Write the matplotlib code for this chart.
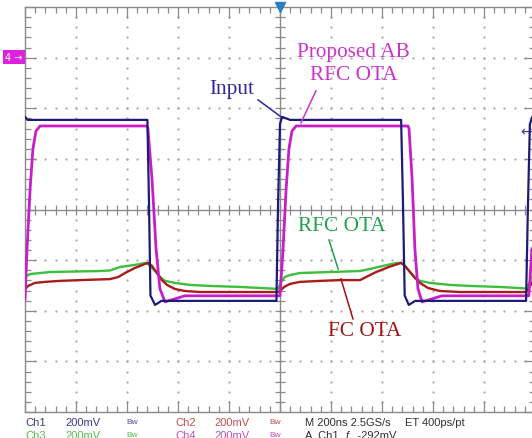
"""Oscilloscope capture: step response of the proposed class-AB RFC OTA vs RFC and FC OTAs."""
import numpy as np
import matplotlib
matplotlib.use("Agg")
import matplotlib.pyplot as plt  # noqa: E402

# time in ns (200 ns/div, trigger at 0), voltage in mV (200 mV/div, centre = 0)
input_t = [-1000, -990, -520, -514, -508, -490, -465, -14, -8, 0, 8, 40,
           475, 482, 489, 505, 530, 965, 972, 980, 990]
input_v = [366, 354, 354, 40, -340, -377, -361, -361, 0, 338, 366, 354,
           354, 40, -340, -377, -361, -361, 0, 338, 366]

ab_t = [-1000, -992, -980, -969, -957, -941, -522, -518, -502, -486, -471,
        -451, -412, -373, -8, 0, 12, 24, 35, 47, 63, 502, 506, 518, 529,
        541, 557, 596, 635, 972, 976, 988]
ab_v = [-354, -155, 81, 239, 310, 330, 330, 319, 121, -155, -313, -365,
        -353, -341, -341, -341, -155, 81, 239, 310, 330, 330, 319, 121,
        -155, -313, -365, -353, -341, -341, -341, -155]

rfc_t = [-1000, -980, -902, -706, -667, -627, -569, -529, -522, -510, -490,
         -471, -451, -412, -353, -275, -157, -39, -8, 4, 20, 39, 78, 196,
         314, 353, 412, 459, 475, 490, 510, 529, 549, 588, 667, 745, 863,
         965, 976, 988]
rfc_v = [-266, -255, -247, -243, -241, -227, -219, -211, -211, -223, -243,
         -266, -282, -290, -298, -302, -306, -312, -314, -286, -266, -259,
         -251, -247, -243, -235, -221, -211, -211, -223, -247, -270, -282,
         -290, -298, -302, -306, -312, -294, -266]

fc_t = [-1000, -988, -961, -922, -863, -784, -667, -635, -608, -569, -529,
        -518, -502, -482, -463, -443, -412, -373, -314, -8, 0, 16, 39, 78,
        157, 235, 314, 337, 377, 427, 475, 490, 510, 529, 549, 580, 627,
        706, 965, 976, 988]
fc_v = [-315, -302, -290, -286, -282, -279, -275, -267, -251, -231, -215,
        -211, -223, -251, -279, -298, -314, -322, -326, -326, -322, -306,
        -294, -286, -282, -279, -279, -267, -247, -227, -211, -223, -247,
        -270, -290, -310, -322, -326, -326, -310, -290]

# annotation labels: text, colour, position (ns, mV), pointer start, pointer end
labels = [
    ("Input", "#2b2b9b", (-188, 477), (-86, 433), (4, 366)),
    ("Proposed AB\nRFC OTA", "#cc33cc", (288, 578), (141, 469), (82, 342)),
    ("RFC OTA", "#22a04a", (243, -65), (192, -120), (228, -235)),
    ("FC OTA", "#a01414", (333, -480), (239, -274), (286, -432)),
]

# status bar of the scope
status_row1 = [(25, "Ch1", "#3a3a80"), (65, "200mV", "#3a3a90"), (126, "Bw", "#5050a0"),
               (175, "Ch2", "#c05050"), (214, "200mV", "#c05050"), (269, "Bw", "#c05050"),
               (305, "M 200ns 2.5GS/s", "#303030"), (405, "ET 400ps/pt", "#303030")]
status_row2 = [(25, "Ch3", "#50c050"), (65, "200mV", "#50c050"), (126, "Bw", "#50c050"),
               (175, "Ch4", "#c050c0"), (214, "200mV", "#c050c0"), (269, "Bw", "#c050c0"),
               (305, "A  Ch1  ƒ  -292mV", "#303030")]

W, H = 532, 439
GRID = "#8a8a8a"


def draw_graticule(ax):
    xs_minor = np.arange(-1000, 1001, 40)
    ys_minor = np.arange(-800, 801, 40)
    # dotted division lines
    for x in np.arange(-800, 801, 200):
        if x != 0:
            ax.plot(np.full_like(ys_minor, x), ys_minor, ls="none", marker=".",
                    ms=1.3, color="#ababab", zorder=1)
    for y in np.arange(-600, 601, 200):
        if y != 0:
            ax.plot(xs_minor, np.full_like(xs_minor, y), ls="none", marker=".",
                    ms=1.3, color="#ababab", zorder=1)
    # centre crosshair with ticks
    ax.axhline(0, color=GRID, lw=1, zorder=1)
    ax.axvline(0, color=GRID, lw=1, zorder=1)
    ax.plot(xs_minor, np.zeros_like(xs_minor), ls="none", marker="|", ms=7,
            mew=0.9, color=GRID, zorder=1)
    ax.plot(np.zeros_like(ys_minor), ys_minor, ls="none", marker="_", ms=7,
            mew=0.9, color=GRID, zorder=1)

    ax.set_xlim(-1000, 1000)
    ax.set_ylim(-800, 800)
    ax.set_xticks(np.arange(-1000, 1001, 200))
    ax.set_yticks(np.arange(-800, 801, 200))
    ax.set_xticks(xs_minor, minor=True)
    ax.set_yticks(ys_minor, minor=True)
    ax.tick_params(which="both", direction="in", top=True, right=True,
                   labelbottom=False, labelleft=False, color=GRID, width=0.9)
    ax.tick_params(which="major", length=8)
    ax.tick_params(which="minor", length=4)
    for s in ax.spines.values():
        s.set_color(GRID)
        s.set_linewidth(1)


def main():
    fig = plt.figure(figsize=(W / 100, H / 100), dpi=100)
    ax = fig.add_axes([25 / W, 26 / H, 510 / W, 405 / H])
    draw_graticule(ax)

    ax.plot(rfc_t, rfc_v, color="#3cbf3c", lw=1.7, zorder=3)
    ax.plot(fc_t, fc_v, color="#a81c1c", lw=1.7, zorder=4)
    ax.plot(ab_t, ab_v, color="#c81ec8", lw=2.0, zorder=5)
    ax.plot(input_t, input_v, color="#1c1c78", lw=1.6, zorder=6)

    for text, col, pos, p0, p1 in labels:
        ax.text(*pos, text, color=col, family="Liberation Serif", fontsize=15.3,
                ha="center", va="center", linespacing=1.25, zorder=7)
        ax.plot([p0[0], p1[0]], [p0[1], p1[1]], color=col, lw=1.1, zorder=7)

    # trigger position / level markers and channel-4 reference
    ax.plot([0], [800], marker="v", ms=7, color="#2a7fc0", clip_on=False, zorder=8)
    ax.text(965, 307, "←", color="#404090", fontsize=10, ha="center",
            va="center", clip_on=False)
    fig.text(14 / W, 1 - 58 / H, "4 →", color="white", fontsize=7,
             ha="center", va="center",
             bbox=dict(boxstyle="square,pad=0.25", fc="#e020e0", ec="none"))

    # bottom status bar; the second row is cut by the frame edge as in the capture
    for row, ypx in ((status_row1, 423), (status_row2, 436)):
        for xpx, txt, col in row:
            size = 6 if txt == "Bw" else 8
            fig.text(xpx / W, 1 - ypx / H, txt, color=col, fontsize=size,
                     family="Liberation Sans", ha="left", va="center")

    fig.savefig("out.png", dpi=100)


if __name__ == "__main__":
    main()
